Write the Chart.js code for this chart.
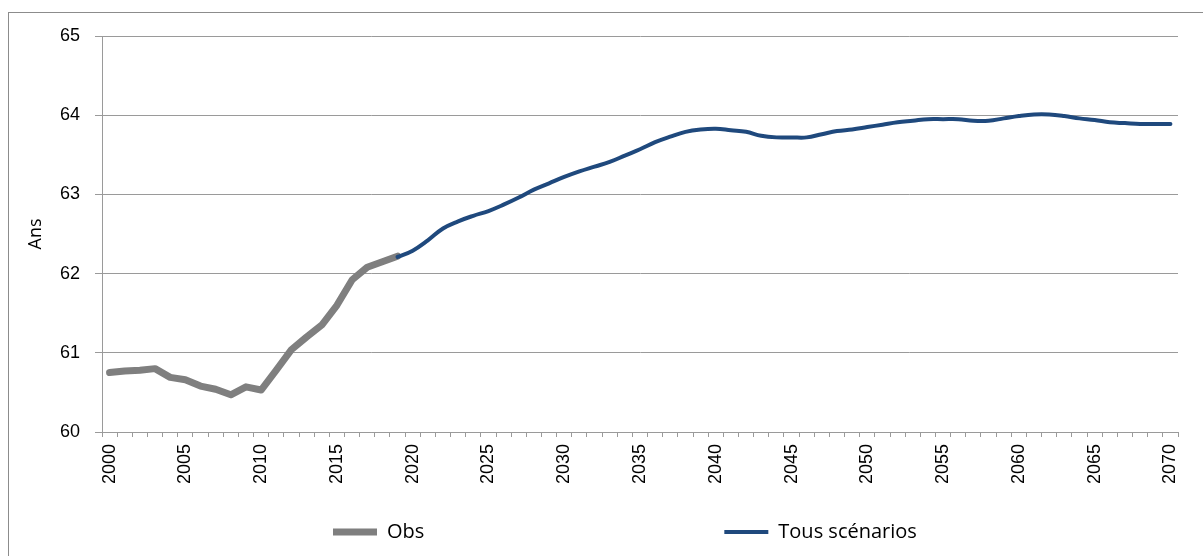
<!DOCTYPE html>
<html lang="fr">
<head>
  <meta charset="UTF-8">
  <script src="https://cdn.jsdelivr.net/npm/chart.js"></script>
  <title>Ans</title>
  <style>
    body { margin: 0; overflow: hidden; background: #fff; }
    #cadre { position: absolute; left: 8px; top: 12px; width: 1400px; height: 800px; border: 1px solid #8c8c8c; }
    #boite { position: absolute; left: 0; top: 0; width: 1203px; height: 556px; }
  </style>
</head>
<body>
  <div id="cadre"></div>
  <div id="boite"><canvas id="graphe" width="1203" height="556"></canvas></div>

<script>
  // annees 2000 -> 2070
  const annees = [];
  for (let a = 2000; a <= 2070; a++) annees.push(String(a));

  // observe 2000-2019
  const obs = [60.75, 60.77, 60.78, 60.80, 60.69, 60.66, 60.58, 60.54, 60.47, 60.57,
    60.53, 60.78, 61.04, 61.20, 61.35, 61.60, 61.92, 62.08, 62.15, 62.22];

  // projection 2019-2070
  const projection = [62.21, 62.29, 62.42, 62.57, 62.66, 62.73, 62.79, 62.87, 62.96, 63.06,
    63.14, 63.22, 63.29, 63.35, 63.41, 63.49, 63.57, 63.66, 63.73, 63.79,
    63.82, 63.83, 63.81, 63.79, 63.74, 63.72, 63.72, 63.72, 63.76, 63.80,
    63.82, 63.85, 63.88, 63.91, 63.93, 63.95, 63.95, 63.95, 63.93, 63.93,
    63.96, 63.99, 64.01, 64.01, 63.99, 63.96, 63.94, 63.91, 63.90, 63.89,
    63.89, 63.89];

  const ticksY = [60, 61, 62, 63, 64, 65];

  const serieObs = annees.map((a, i) => i < obs.length ? obs[i] : null);
  const serieProj = annees.map((a, i) => i >= 19 ? projection[i - 19] : null);

  const gris = '#7f7f7f';
  const bleu = '#1f497d';
  const trait = '#9a9a9a';

  // deplace la legende : Obs a gauche, Tous scenarios a droite
  const placeLegende = {
    id: 'placeLegende',
    afterLayout(chart) {
      const leg = chart.legend;
      const pad = leg.options.labels.padding;
      leg.left = 333 - pad;
      leg.right = 3000;
      leg.top = 532 - pad - 10;
      leg.bottom = 556;
    }
  };

  new Chart(document.getElementById('graphe'), {
    type: 'line',
    data: {
      labels: annees,
      datasets: [
        {
          label: 'Obs',
          data: serieObs,
          borderColor: gris,
          backgroundColor: gris,
          borderWidth: 7,
          borderCapStyle: 'round',
          borderJoinStyle: 'round',
          pointRadius: 0,
          tension: 0,
          order: 1
        },
        {
          label: 'Tous scénarios',
          data: serieProj,
          borderColor: bleu,
          backgroundColor: bleu,
          borderWidth: 4,
          borderCapStyle: 'round',
          borderJoinStyle: 'round',
          pointRadius: 0,
          tension: 0.4,
          order: 0
        }
      ]
    },
    options: {
      responsive: false,
      animation: false,
      devicePixelRatio: 1,
      layout: { padding: { left: 0, right: 25, top: 36, bottom: 0 } },
      scales: {
        x: {
          offset: true,
          afterFit(s) { s.height = 84; },
          border: { color: trait },
          grid: { drawOnChartArea: false, offset: true, tickLength: 5, color: trait },
          ticks: {
            autoSkip: false,
            minRotation: 90,
            maxRotation: 90,
            padding: 7,
            color: '#000',
            font: { family: 'Liberation Sans', size: 18 },
            callback(v, i) { return annees[i] % 5 === 0 ? annees[i] : ''; }
          }
        },
        y: {
          min: 60,
          max: 65,
          afterFit(s) { s.width = 102; },
          afterBuildTicks(s) { s.ticks = ticksY.map(v => ({ value: v })); },
          border: { color: trait },
          grid: { color: trait, tickLength: 7 },
          ticks: {
            padding: 15,
            color: '#000',
            font: { family: 'Liberation Sans', size: 18 }
          },
          title: {
            display: true,
            text: 'Ans',
            color: '#000',
            padding: { top: 25, bottom: 0 },
            font: { family: 'Open Sans', size: 18 }
          }
        }
      },
      plugins: {
        legend: {
          position: 'bottom',
          align: 'start',
          maxHeight: 40,
          labels: {
            sort: (a, b) => a.datasetIndex - b.datasetIndex,
            usePointStyle: true,
            pointStyle: 'line',
            pointStyleWidth: 44,
            boxHeight: 6,
            padding: 300,
            color: '#000',
            font: { family: 'Open Sans', size: 20 }
          }
        },
        tooltip: { enabled: false }
      }
    },
    plugins: [placeLegende]
  });
</script>
</body>
</html>
